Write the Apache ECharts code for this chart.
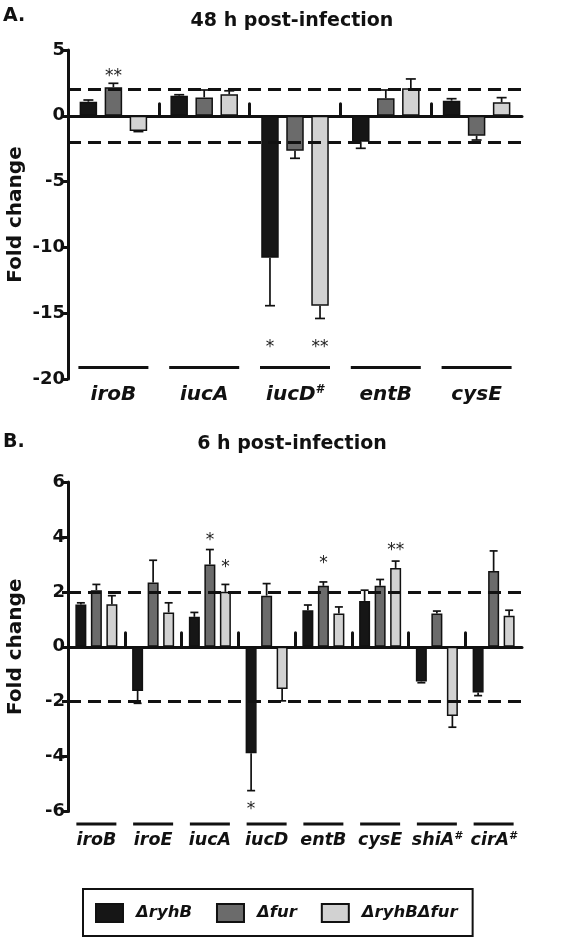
<!DOCTYPE html>
<html><head><meta charset="utf-8">
<script src="https://cdn.jsdelivr.net/npm/echarts@6/dist/echarts.min.js"></script>
<style>html,body{margin:0;padding:0;background:#fff}#c{width:566px;height:940px}</style>
</head><body><div id="c"></div>
<script>
// ---------- Panel A: 48 h post-infection ----------
const catsA = ['iroB', 'iucA', 'iucD#', 'entB', 'cysE'];
const ryhB_A = [1.07, 1.53, -10.78, -1.97, 1.15];
const fur_A = [2.17, 1.40, -2.65, 1.33, -1.51];
const both_A = [-1.15, 1.63, -14.43, 2.09, 1.03];
const ryhB_A_err = [0.13, 0.07, 3.65, 0.50, 0.15];
const fur_A_err = [0.30, 0.56, 0.58, 0.63, 0.33];
const both_A_err = [0.05, 0.27, 0.97, 0.71, 0.35];
const starA_cat = [0, 2, 2];
const starA_series = [1, 0, 2];
const starA_y = [3.35, -17.2, -17.2];
const starA_text = ['**', '*', '**'];

// ---------- Panel B: 6 h post-infection ----------
const catsB = ['iroB', 'iroE', 'iucA', 'iucD', 'entB', 'cysE', 'shiA#', 'cirA#'];
const ryhB_B = [1.54, -1.61, 1.09, -3.88, 1.33, 1.67, -1.27, -1.67];
const fur_B = [2.06, 2.34, 3.00, 1.86, 2.22, 2.22, 1.21, 2.76];
const both_B = [1.55, 1.25, 2.00, -1.54, 1.21, 2.87, -2.52, 1.13];
const ryhB_B_err = [0.06, 0.45, 0.16, 1.36, 0.19, 0.39, 0.04, 0.11];
const fur_B_err = [0.21, 0.81, 0.54, 0.44, 0.14, 0.23, 0.09, 0.73];
const both_B_err = [0.31, 0.35, 0.27, 0.43, 0.24, 0.25, 0.41, 0.20];
const starB_cat = [2, 2, 4, 5, 3];
const starB_series = [1, 2, 1, 2, 0];
const starB_y = [4.06, 3.05, 3.21, 3.70, -5.76];
const starB_text = ['*', '*', '*', '**', '*'];

const thresholds = [2, -2];
const seriesNames = ['\u0394ryhB', '\u0394fur', '\u0394ryhB\u0394fur'];
const seriesColors = ['#161616', '#6b6b6b', '#d2d2d2'];

const FONT = 'DejaVu Sans';
const INK = '#111';

const chart = echarts.init(document.getElementById('c'), null, {renderer: 'canvas'});

function labelAxis(gridIndex, cats, lineW, fs, offset, margin, lh) {
  return {
    type: 'category', gridIndex, data: cats, position: 'bottom', offset,
    axisLine: {show: false, onZero: false}, axisTick: {show: false},
    axisLabel: {
      interval: 0, margin,
      formatter: v => v.endsWith('#') ? '{l|}\n{t|' + v.slice(0, -1) + '}{s|#}' : '{l|}\n{t|' + v + '}',
      rich: {
        l: {width: lineW, height: 3, lineHeight: 3, backgroundColor: INK},
        t: {fontFamily: FONT, fontWeight: 'bold', fontStyle: 'italic', fontSize: fs, color: INK, lineHeight: lh},
        s: {fontFamily: FONT, fontWeight: 'bold', fontStyle: 'italic', fontSize: Math.round(fs * 0.6), color: INK, verticalAlign: 'top', lineHeight: lh, padding: [lh / 2 - fs * 0.55, 0, 0, 0]}
      }
    }
  };
}

// axis drawn along y = 0 whose ticks mark the boundaries between gene groups
function boundaryAxis(gridIndex, n, tickLen) {
  const slots = [];
  for (let i = 0; i <= n; i++) slots.push('b' + i);
  return {
    type: 'category', gridIndex, data: slots, boundaryGap: false, position: 'bottom',
    axisLine: {show: true, onZero: true, lineStyle: {color: INK, width: 3}},
    axisTick: {show: true, inside: true, length: tickLen, interval: (i) => i > 0 && i < n,
      lineStyle: {color: INK, width: 3, cap: 'round'}},
    axisLabel: {show: false}
  };
}

function valueAxis(gridIndex, min, max, interval) {
  return {
    type: 'value', gridIndex, min, max, interval,
    name: 'Fold change', nameLocation: 'middle', nameGap: 42, nameMoveOverlap: false,
    nameTextStyle: {fontFamily: FONT, fontWeight: 'bold', fontSize: 20, color: INK},
    axisLine: {show: true, lineStyle: {color: INK, width: 3}},
    axisTick: {show: true, length: 6, lineStyle: {color: INK, width: 3}},
    axisLabel: {margin: 3, fontFamily: FONT, fontWeight: 'bold', fontSize: 18, color: INK},
    splitLine: {show: false}
  };
}

function barSeries(xIdx, yIdx, vals, k, bw, gap, withMark) {
  const s = {
    type: 'bar', name: seriesNames[k], xAxisIndex: xIdx, yAxisIndex: yIdx,
    data: vals, barWidth: bw, barGap: gap,
    itemStyle: {color: seriesColors[k], borderColor: INK, borderWidth: 1.5},
    z: 2
  };
  if (withMark) {
    s.markLine = {
      silent: true, symbol: 'none', label: {show: false}, animation: false,
      lineStyle: {type: [13, 7], width: 3, color: INK},
      data: thresholds.map(t => ({yAxis: t}))
    };
  }
  return s;
}

function errSeries(xIdx, yIdx, vals, errs, k, stride, cap) {
  return {
    type: 'custom', xAxisIndex: xIdx, yAxisIndex: yIdx, silent: true, z: 3,
    data: vals.map((v, i) => [i, v, errs[i]]),
    encode: {x: 0, y: 1},
    renderItem(params, api) {
      const c = api.value(0), v = api.value(1), e = api.value(2);
      const end = v + (v >= 0 ? 1 : -1) * e;
      const p0 = api.coord([c, v]), p1 = api.coord([c, end]);
      const x = p0[0] + (k - 1) * stride;
      const st = {stroke: INK, lineWidth: 1.7};
      return {type: 'group', children: [
        {type: 'line', shape: {x1: x, y1: p0[1], x2: x, y2: p1[1]}, style: st},
        {type: 'line', shape: {x1: x - cap, y1: p1[1], x2: x + cap, y2: p1[1]}, style: st}
      ]};
    }
  };
}

function starSeries(xIdx, yIdx, cats, ser, ys, texts, stride) {
  return {
    type: 'custom', xAxisIndex: xIdx, yAxisIndex: yIdx, silent: true, z: 4,
    data: cats.map((c, i) => [c, ys[i], ser[i]]),
    encode: {x: 0, y: 1},
    renderItem(params, api) {
      const p = api.coord([api.value(0), api.value(1)]);
      const k = api.value(2);
      return {type: 'text', x: p[0] + (k - 1) * stride, y: p[1] + 5,
        style: {text: texts[params.dataIndex], font: '17px "DejaVu Sans"', fill: '#222', align: 'center', verticalAlign: 'middle'}};
    }
  };
}

const bwA = 17.5, gapA = 0.43, strideA = bwA * (1 + gapA);
const bwB = 11, gapB = 0.41, strideB = bwB * (1 + gapB);

const titleStyle = {fontFamily: FONT, fontWeight: 'bold', fontSize: 19, color: INK, lineHeight: 24};

chart.setOption({
  animation: false,
  backgroundColor: '#fff',
  title: [
    {text: 'A.', left: 3, top: 4, padding: 0, textStyle: titleStyle},
    {text: '48 h post-infection', left: 292, textAlign: 'center', top: 9, padding: 0, textStyle: titleStyle},
    {text: 'B.', left: 3, top: 430, padding: 0, textStyle: titleStyle},
    {text: '6 h post-infection', left: 292, textAlign: 'center', top: 432, padding: 0, textStyle: titleStyle}
  ],
  legend: {
    data: seriesNames, left: 83, top: 889, selectedMode: false,
    borderColor: INK, borderWidth: 2, padding: [14, 15, 13, 12],
    itemWidth: 27, itemHeight: 18, itemGap: 24, icon: 'rect',
    textStyle: {fontFamily: FONT, fontWeight: 'bold', fontStyle: 'italic', fontSize: 16.5, color: INK, padding: [0, 0, 0, 8]}
  },
  grid: [
    {left: 68, width: 454, top: 50, height: 329, outerBoundsMode: 'none', containLabel: false},
    {left: 68, width: 454, top: 482, height: 329.5, outerBoundsMode: 'none', containLabel: false}
  ],
  xAxis: [
    labelAxis(0, catsA, 70, 20, -13, 0, 52),
    boundaryAxis(0, catsA.length, 12),
    labelAxis(1, catsB, 40, 17.5, 0, 11, 30),
    boundaryAxis(1, catsB.length, 14)
  ],
  yAxis: [
    valueAxis(0, -20, 5, 5),
    valueAxis(1, -6, 6, 2)
  ],
  series: [
    barSeries(0, 0, ryhB_A, 0, bwA, gapA * 100 + '%', false),
    barSeries(0, 0, fur_A, 1, bwA, gapA * 100 + '%', false),
    barSeries(0, 0, both_A, 2, bwA, gapA * 100 + '%', true),
    errSeries(0, 0, ryhB_A, ryhB_A_err, 0, strideA, 5),
    errSeries(0, 0, fur_A, fur_A_err, 1, strideA, 5),
    errSeries(0, 0, both_A, both_A_err, 2, strideA, 5),
    starSeries(0, 0, starA_cat, starA_series, starA_y, starA_text, strideA),
    barSeries(2, 1, ryhB_B, 0, bwB, gapB * 100 + '%', false),
    barSeries(2, 1, fur_B, 1, bwB, gapB * 100 + '%', false),
    barSeries(2, 1, both_B, 2, bwB, gapB * 100 + '%', true),
    errSeries(2, 1, ryhB_B, ryhB_B_err, 0, strideB, 4),
    errSeries(2, 1, fur_B, fur_B_err, 1, strideB, 4),
    errSeries(2, 1, both_B, both_B_err, 2, strideB, 4),
    starSeries(2, 1, starB_cat, starB_series, starB_y, starB_text, strideB)
  ]
});
</script></body></html>
